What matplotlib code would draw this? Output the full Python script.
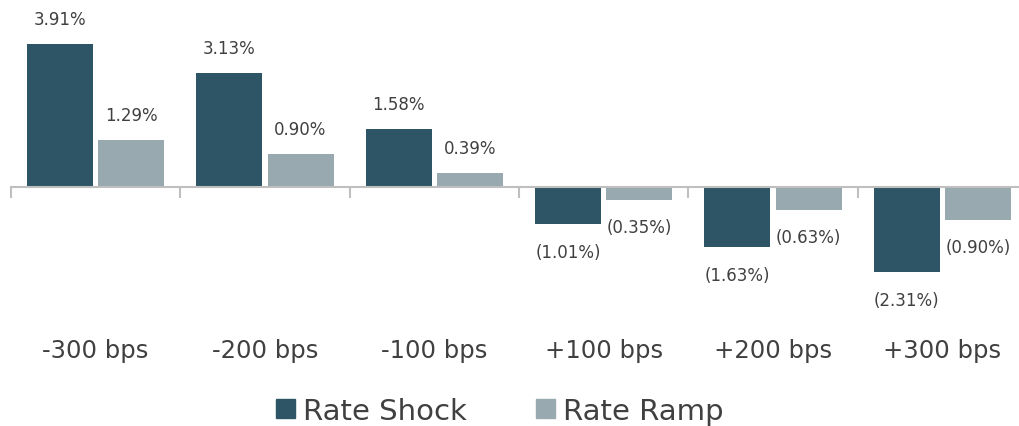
import numpy as np
import matplotlib.pyplot as plt
from matplotlib.patches import Patch

plt.rcParams['font.family'] = ['DejaVu Sans']

categorias = ['-300 bps', '-200 bps', '-100 bps', '+100 bps', '+200 bps', '+300 bps']
rate_shock = [3.91, 3.13, 1.58, -1.01, -1.63, -2.31]
rate_ramp = [1.29, 0.90, 0.39, -0.35, -0.63, -0.90]

col_shock = '#2e5566'
col_ramp = '#98a9b0'
col_txt = '#404040'

def etiqueta(v):
    return f'{v:.2f}%' if v >= 0 else f'({abs(v):.2f}%)'

fig = plt.figure(figsize=(10.2, 4.27), dpi=100)
# ejes: de x=11px a x=1027px, de y=0 a y=300px
ax = fig.add_axes([11 / 1020, 127 / 427, 1016 / 1020, 300 / 427])

x = np.arange(len(categorias))
w = 0.39
off = 0.21
ax.bar(x - off, rate_shock, w, color=col_shock)
ax.bar(x + off, rate_ramp, w, color=col_ramp)

for xi, v in zip(x - off, rate_shock):
    ax.annotate(etiqueta(v), (xi, v), xytext=(0, 18 if v > 0 else -20),
                textcoords='offset points', ha='center', va='center',
                fontsize=12, color=col_txt)
for xi, v in zip(x + off, rate_ramp):
    ax.annotate(etiqueta(v), (xi, v), xytext=(0, 18 if v > 0 else -19),
                textcoords='offset points', ha='center', va='center',
                fontsize=12, color=col_txt)

ax.set_xlim(-0.5, len(categorias) - 0.5)
ax.set_ylim(-(301 - 189) / 36.8, 189 / 36.8)

for s in ['top', 'right', 'left']:
    ax.spines[s].set_visible(False)
ax.spines['bottom'].set_position(('data', 0))
ax.spines['bottom'].set_color('#bfbfbf')
ax.spines['bottom'].set_linewidth(1.5)
ax.set_yticks([])
ax.set_xticks(np.arange(len(categorias) + 1) - 0.5)
ax.set_xticklabels([])
ax.tick_params(axis='x', length=8, width=1.5, color='#bfbfbf', direction='out')

for xi, c in zip(x, categorias):
    ax.text(xi, -(352 - 189) / 36.8, c, ha='center', va='center',
            fontsize=17.5, color=col_txt)

handles = [Patch(color=col_shock, label='Rate Shock'),
           Patch(color=col_ramp, label='Rate Ramp')]
fig.legend(handles=handles, loc='center', bbox_to_anchor=(0.49, 15 / 427),
           ncol=2, frameon=False, fontsize=21, labelcolor=col_txt,
           handlelength=0.65, handleheight=0.65, handletextpad=0.25, columnspacing=2.4)

fig.savefig('out.png', dpi=100)
